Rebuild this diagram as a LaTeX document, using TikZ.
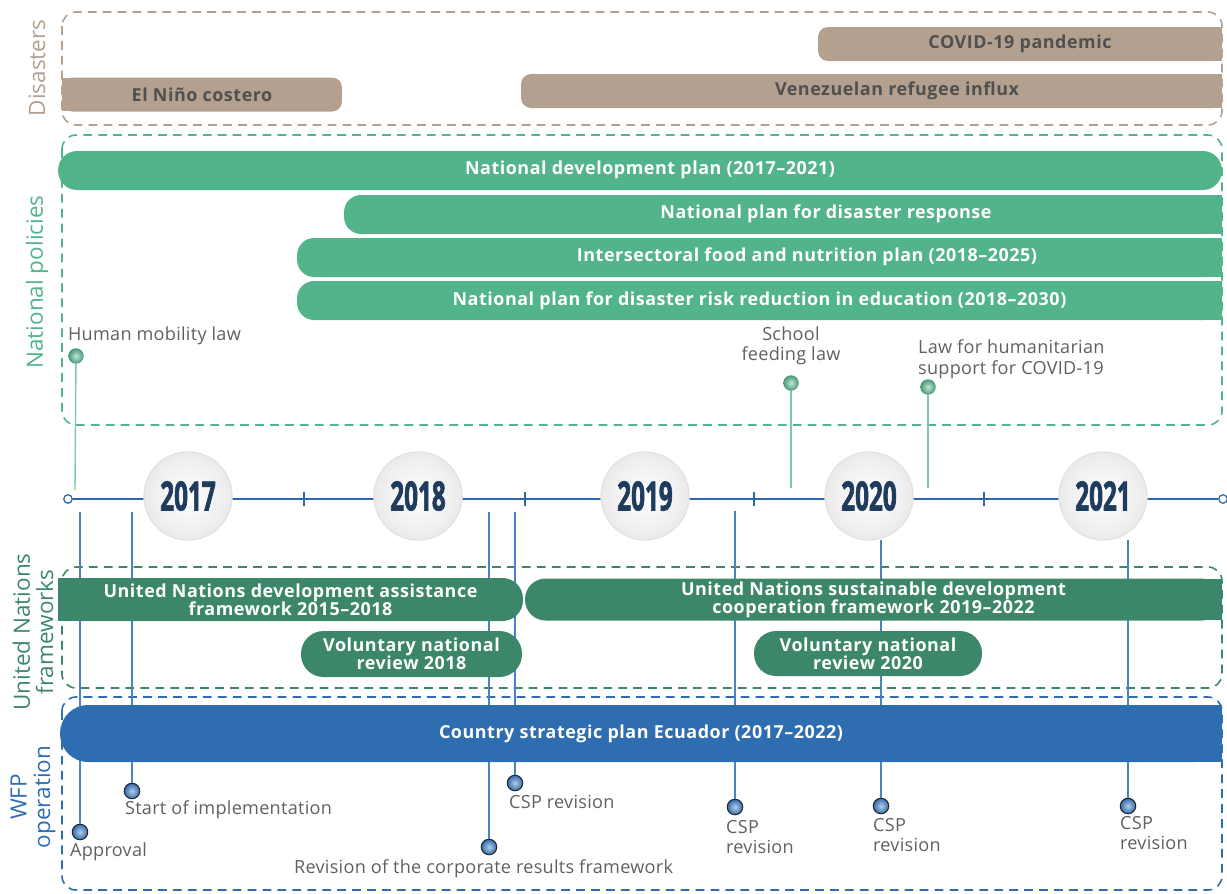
\documentclass[tikz,border=0pt]{standalone}
\usepackage{fontspec}
\setmainfont{Open Sans}
\newfontfamily\yearfont[FakeStretch=0.6,FakeBold=1.6]{Open Sans}
\newfontfamily\barfont[LetterSpace=3]{Open Sans}
\newfontfamily\notefont[LetterSpace=1.5]{Open Sans}
\usetikzlibrary{positioning}
\definecolor{tanc}{HTML}{B3A08E}
\definecolor{natc}{HTML}{52B48A}
\definecolor{unc}{HTML}{3C876A}
\definecolor{wfpc}{HTML}{2F6DB1}
\definecolor{tlc}{HTML}{2C67A6}
\definecolor{pinc}{HTML}{4A82C4}
\definecolor{gpinc}{HTML}{7CC8A8}
\definecolor{navy}{HTML}{1F3C5E}
\definecolor{graytxt}{HTML}{606060}
\definecolor{bartxt}{HTML}{505050}
\tikzset{
frame/.style={dash pattern=on 5pt off 3.5pt, line width=0.9pt, rounded corners=8pt}, % dashed box round each group
side/.style={rotate=90, font=\fontsize{12.8}{13.3}\selectfont, align=center}, % group names on the left
bar/.style={inner sep=0pt, font=\barfont\bfseries\fontsize{10.2}{10.3}\selectfont, text=white, align=center},
tanbar/.style={bar, fill=tanc, text=bartxt, minimum height=0.68cm, rounded corners=0.2cm},
natbar/.style={bar, fill=natc, minimum height=0.78cm, rounded corners=0.34cm},
unbar/.style={bar, fill=unc, minimum height=0.84cm, rounded corners=0.41cm},
wfpbar/.style={bar, fill=wfpc, minimum height=1.14cm, rounded corners=0.56cm},
tline/.style={tlc, line width=0.8pt},
tlend/.style={circle, draw=tlc, fill=white, line width=0.7pt, inner sep=0pt, minimum size=0.17cm},
yr/.style={circle, minimum size=1.76cm, inner color=white, outer color=gray!16, draw=gray!22, line width=0.8pt, text=navy, font=\yearfont\bfseries\fontsize{23}{24}\selectfont},
gdot/.style={circle, inner sep=0pt, minimum size=0.31cm, inner color=natc!35!white, outer color=natc!85!black},
bdot/.style={circle, inner sep=0pt, minimum size=0.31cm, inner color=wfpc!35!white, outer color=wfpc, draw=black!85, line width=0.6pt},
gline/.style={gpinc, line width=0.8pt},
bline/.style={pinc, line width=0.7pt},
note/.style={font=\notefont\fontsize{10.3}{11.5}\selectfont, text=graytxt, inner sep=1pt},
}
\begin{document}
\begin{tikzpicture}[x=0.02cm, y=-0.02cm]
\useasboundingbox (0,0) rectangle (1227,893);

% group boxes and their names
\draw[frame, tanc] (62,12) rectangle (1222,125);
\draw[frame, natc] (62,135) rectangle (1222,425);
\draw[frame, unc] (62,567) rectangle (1222,688);
\draw[frame, wfpc] (62,697) rectangle (1222,890);
\node[side, text=tanc] (lab-dis) at (37,68) {Disasters};
\node[side, text=natc] (lab-nat) at (37,282) {National policies};
\node[side, text=unc] (lab-un) at (33,632) {United Nations\\frameworks};
\node[side, text=wfpc] (lab-wfp) at (33,797) {WFP\\operation};

% time line
\node[tlend] (tl-start) at (68,499) {};
\node[tlend] (tl-end) at (1223,499) {};
\draw[tline] (tl-start) -- (tl-end);
\draw[tline] (304,492) -- (304,506);
\draw[tline] (525,492) -- (525,506);
\draw[tline] (754,492) -- (754,506);
\draw[tline] (984,492) -- (984,506);

% national pins
\node[gdot] (hml) at (76,356) {};
\node[gdot] (sfl) at (791,383) {};
\node[gdot] (lhs) at (928,387) {};
\coordinate (hml-b) at (75,490);
\coordinate (sfl-b) at (791,488);
\coordinate (lhs-b) at (928,488);
\draw[gline] (hml-b) -- (hml);
\draw[gline] (sfl-b) -- (sfl);
\draw[gline] (lhs-b) -- (lhs);
\node[note, anchor=west] (hml-t) at (66,336) {Human mobility law};
\node[note, align=center] (sfl-t) at (791,346) {School\\feeding law};
\node[note, align=left, anchor=north west] (lhs-t) at (916,338) {Law for humanitarian\\support for COVID-19};

% WFP pins
\coordinate (app-a) at (80,512);
\coordinate (imp-a) at (132,512);
\coordinate (crf-a) at (489,512);
\coordinate (rev1-a) at (515,512);
\coordinate (rev2-a) at (735,511);
\coordinate (rev3-a) at (881,540);
\coordinate (rev4-a) at (1128,540);
\node[bdot] (app) at (80,832) {};
\node[bdot] (imp) at (132,791) {};
\node[bdot] (crf) at (489,847) {};
\node[bdot] (rev1) at (515,783) {};
\node[bdot] (rev2) at (735,807) {};
\node[bdot] (rev3) at (881,806) {};
\node[bdot] (rev4) at (1128,806) {};
\draw[bline] (app-a) -- (app);
\draw[bline] (imp-a) -- (imp);
\draw[bline] (crf-a) -- (crf);
\draw[bline] (rev1-a) -- (rev1);
\draw[bline] (rev2-a) -- (rev2);
\draw[bline] (rev3-a) -- (rev3);
\draw[bline] (rev4-a) -- (rev4);
\node[note, anchor=west] (app-t) at (68,852) {Approval};
\node[note, anchor=west] (imp-t) at (123,810) {Start of implementation};
\node[note, anchor=west] (crf-t) at (292,869) {Revision of the corporate results framework};
\node[note, anchor=west] (rev1-t) at (507,802) {CSP revision};
\node[note, align=left, anchor=north west] (rev2-t) at (724,818) {CSP\\revision};
\node[note, align=left, anchor=north west] (rev3-t) at (871,816) {CSP\\revision};
\node[note, align=left, anchor=north west] (rev4-t) at (1118,814) {CSP\\revision};

% disasters
\fill[tanc] (62,78) rectangle (90,111);
\fill[tanc] (1190,27) rectangle (1222,61);
\fill[tanc] (1190,74) rectangle (1222,108);
\node[tanbar, minimum width=5.6cm] (nino) at (202,94.5) {El Niño costero};
\node[tanbar, minimum width=8.08cm] (covid) at (1020,44) {COVID-19 pandemic};
\node[tanbar, minimum width=14.02cm] (venez) at (871.5,91) {};
\node[bar, text=bartxt] (venez-t) at (897,91) {Venezuelan refugee influx};

% national policies
\fill[natc] (1190,195) rectangle (1222,234);
\fill[natc] (1190,238) rectangle (1222,277);
\fill[natc] (1190,281) rectangle (1222,320);
\node[natbar, minimum width=23.28cm, rounded corners=0.38cm] (ndp) at (640,170.5) {};
\node[bar] (ndp-t) at (650,170) {National development plan (2017–2021)};
\node[natbar, minimum width=17.56cm] (npdr) at (783,214.5) {};
\node[bar] (npdr-t) at (826,213.5) {National plan for disaster response};
\node[natbar, minimum width=18.5cm] (ifnp) at (759.5,257.5) {};
\node[bar] (ifnp-t) at (807,256.5) {Intersectoral food and nutrition plan (2018–2025)};
\node[natbar, minimum width=18.5cm] (drre) at (759.5,300.5) {National plan for disaster risk reduction in education (2018–2030)};

% UN frameworks
\fill[unc] (58,578) rectangle (90,621);
\fill[unc] (1190,579) rectangle (1222,620);
\node[unbar, minimum width=9.3cm, minimum height=0.86cm] (undaf) at (290.5,599.5) {United Nations development assistance\\framework 2015–2018};
\node[unbar, minimum width=13.94cm] (unsdcf) at (873.5,599.5) {United Nations sustainable development\\cooperation framework 2019–2022};
\node[unbar, minimum width=4.42cm, minimum height=0.92cm, rounded corners=0.45cm] (vnr18) at (411.5,654) {Voluntary national\\review 2018};
\node[unbar, minimum width=4.56cm, minimum height=0.9cm, rounded corners=0.44cm] (vnr20) at (868,653.5) {Voluntary national\\review 2020};

% WFP operation
\fill[wfpc] (1180,705) rectangle (1222,762);
\node[wfpbar, minimum width=23.24cm] (csp) at (641,733.5) {Country strategic plan Ecuador (2017–2022)};

% years
\node[yr] (y2017) at (188,496) {2017};
\node[yr] (y2018) at (418,496) {2018};
\node[yr] (y2019) at (645,496) {2019};
\node[yr] (y2020) at (869,496) {2020};
\node[yr] (y2021) at (1103,496) {2021};
\end{tikzpicture}
\end{document}
